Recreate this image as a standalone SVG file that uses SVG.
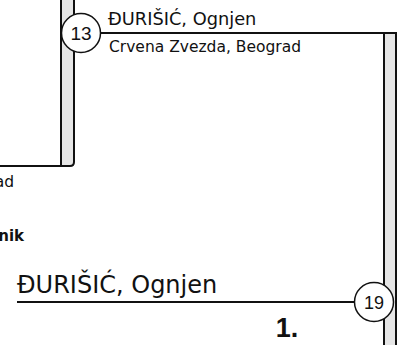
<svg xmlns="http://www.w3.org/2000/svg" width="405" height="345" viewBox="0 0 405 345">
<style>
.bar{fill:#e6e6e6;stroke:#111;stroke-width:2}
.ln{fill:none;stroke:#111;stroke-width:2}
.circ{fill:#fff;stroke:#111;stroke-width:1.5}
.num{font-family:"Liberation Sans",Arial,sans-serif;fill:#111;text-anchor:middle}
.name{font-family:"DejaVu Sans",sans-serif;fill:#111}
.bold{font-family:"DejaVu Sans",sans-serif;font-weight:bold;fill:#111}
</style>
<rect width="405" height="345" fill="#fff"/>
<g id="connectors">
<path class="bar" d="M61,-5 V166 H70 Q74,166 74,162 V-5 Z"/>
<path class="ln" d="M0,166 H70"/>
<path class="ln" d="M100,33 H384"/>
<rect class="bar" x="384" y="33" width="12" height="320"/>
<path class="ln" d="M17,302 H355"/>
</g>
<g id="node-left">
<text class="name" x="14" y="187" font-size="15.5" text-anchor="end">Crvena Zvezda, Beograd</text>
<text class="bold" x="24" y="241" font-size="15" text-anchor="end">nik</text>
</g>
<g id="node-13">
<circle class="circ" cx="81" cy="33" r="19.5"/>
<text class="num" x="81" y="40" font-size="19">13</text>
<text class="name" x="108" y="25" font-size="17.8">ĐURIŠIĆ, Ognjen</text>
<text class="name" x="109" y="52" font-size="15.5">Crvena Zvezda, Beograd</text>
</g>
<g id="node-19">
<circle class="circ" cx="374" cy="302" r="19.5"/>
<text class="num" x="374" y="309" font-size="18">19</text>
<text class="name" x="17" y="293" font-size="24">ĐURIŠIĆ, Ognjen</text>
<text class="num" x="287" y="337" font-size="27" font-weight="bold">1.</text>
</g>
</svg>
